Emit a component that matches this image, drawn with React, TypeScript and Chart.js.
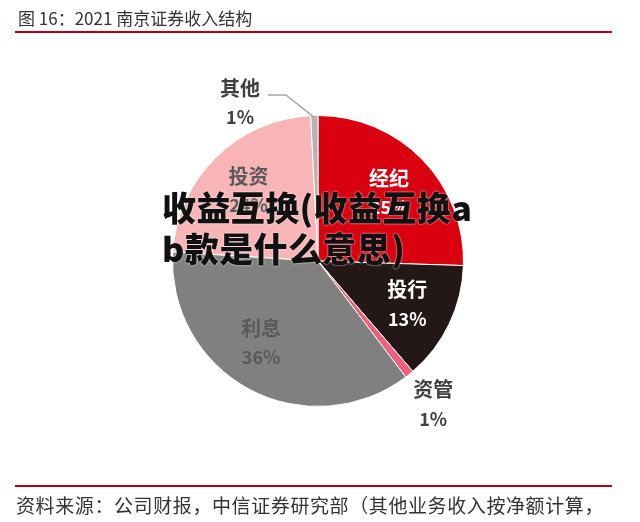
import React, { useEffect, useRef } from "react";
import { Chart, registerables } from "chart.js";

Chart.register(...registerables);

const categories = ["经纪", "投行", "资管", "利息", "投资", "其他"];
const shares = [25.5, 13.2, 1, 36.3, 23.2, 0.8];
const percentLabels = ["25%", "13%", "1%", "36%", "24%", "1%"];
const sliceColors = ["#d9000f", "#231815", "#f0607a", "#808080", "#f8b4b6", "#b3b3b3"];
const labelColors = ["#ffffff", "#ffffff", "#404040", "#5a5a5a", "#595959", "#404040"];
const titleText = "图 16：2021 南京证券收入结构";
const footerText = "资料来源：公司财报，中信证券研究部（其他业务收入按净额计算，";
const overlayLines = ["收益互换(收益互换a", "b款是什么意思)"];

const FONT = '"Noto Sans CJK SC", "Noto Sans", sans-serif';

const labelPlugin = {
  id: "sliceLabels",
  afterDatasetsDraw(chart: any) {
    const ctx = chart.ctx;
    const meta = chart.getDatasetMeta(0);
    ctx.save();
    ctx.textAlign = "center";
    ctx.textBaseline = "middle";
    meta.data.forEach((arc: any, i: number) => {
      const { x, y, startAngle, endAngle, outerRadius } = arc.getProps(
        ["x", "y", "startAngle", "endAngle", "outerRadius"],
        true
      );
      let mid = (startAngle + endAngle) / 2;
      const small = shares[i] < 3;
      let lx: number, ly: number;
      if (small) {
        if (i === 5) {
          lx = x - 78;
          ly = y - 159;
          ctx.strokeStyle = "#a6a6a6";
          ctx.lineWidth = 1.5;
          ctx.beginPath();
          ctx.moveTo(lx + 28, ly - 7);
          ctx.lineTo(lx + 46, ly - 7);
          ctx.lineTo(x + Math.cos(mid) * (outerRadius - 2), y + Math.sin(mid) * (outerRadius - 2));
          ctx.stroke();
        } else {
          const r = outerRadius + 38;
          lx = x + Math.cos(mid) * r;
          ly = y + Math.sin(mid) * r;
        }
      } else {
        if (i === 3) mid += 0.12;
        const r = outerRadius * 0.68;
        lx = x + Math.cos(mid) * r;
        ly = y + Math.sin(mid) * r;
      }
      ctx.fillStyle = labelColors[i];
      ctx.font = `bold 20px ${FONT}`;
      ctx.fillText(categories[i], lx, ly - 14);
      ctx.font = `bold 18px ${FONT}`;
      ctx.fillText(percentLabels[i], lx, ly + 15);
    });
    ctx.restore();
  },
};

export default function App() {
  const ref = useRef<HTMLCanvasElement>(null);
  useEffect(() => {
    if (!ref.current) return;
    const chart = new Chart(ref.current, {
      type: "pie",
      data: {
        labels: categories,
        datasets: [
          {
            data: shares,
            backgroundColor: sliceColors,
            borderColor: "#ffffff",
            borderWidth: 1,
          },
        ],
      },
      options: {
        responsive: false,
        animation: false,
        layout: { padding: { top: 115, bottom: 115, left: 172, right: 176 } },
        plugins: {
          legend: { display: false },
          tooltip: { enabled: false },
          title: { display: false },
        },
      },
      plugins: [labelPlugin],
    });
    return () => chart.destroy();
  }, []);

  return (
    <div
      style={{
        position: "absolute",
        left: 0,
        top: 0,
        width: 640,
        height: 522,
        background: "#ffffff",
        overflow: "hidden",
        fontFamily: FONT,
      }}
    >
      <canvas ref={ref} width={640} height={522} style={{ position: "absolute", left: 0, top: 0 }} />
      <div
        style={{
          position: "absolute",
          left: 18,
          top: 6,
          fontSize: 17,
          color: "#333333",
          lineHeight: "24px",
          whiteSpace: "nowrap",
        }}
      >
        {titleText}
      </div>
      <div
        style={{
          position: "absolute",
          left: 15,
          top: 31,
          width: 597,
          height: 2,
          background: "#b8000a",
        }}
      />
      <div
        style={{
          position: "absolute",
          left: 15,
          top: 485,
          width: 597,
          height: 2,
          background: "#b8000a",
        }}
      />
      <div
        style={{
          position: "absolute",
          left: 16,
          top: 492,
          fontSize: 19,
          letterSpacing: "0.6px",
          color: "#333333",
          lineHeight: "26px",
          whiteSpace: "nowrap",
        }}
      >
        {footerText}
      </div>
      <div
        style={{
          position: "absolute",
          left: 162,
          top: 186,
          fontSize: 34,
          letterSpacing: "0.4px",
          fontWeight: 900,
          color: "#111111",
          lineHeight: "41px",
          whiteSpace: "nowrap",
          textShadow: "0 0 2px #ffffff",
        }}
      >
        {overlayLines.map((l, i) => (
          <div key={i}>{l}</div>
        ))}
      </div>
    </div>
  );
}
